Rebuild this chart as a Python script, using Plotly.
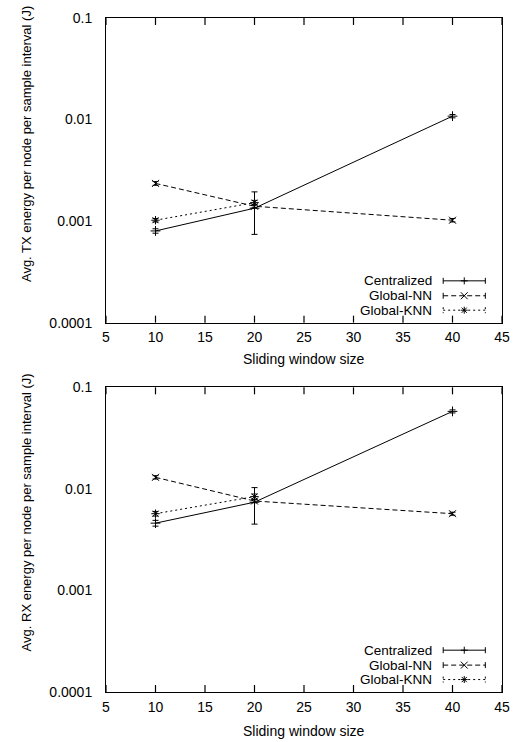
import math
import plotly.graph_objects as go

# ---------------- data ----------------
window_sizes = [10, 20, 40]
knn_window_sizes = [10, 20]

tx_centralized = [0.0008, 0.00134, 0.0108]
tx_centralized_err = [0.00004, 0.0006, 0.0004]
tx_global_nn = [0.00235, 0.0014, 0.00102]
tx_global_nn_err = [0.0001, 0.00005, 0.00004]
tx_global_knn = [0.00102, 0.00152]
tx_global_knn_err = [0.00004, 0.00008]

rx_centralized = [0.0046, 0.0074, 0.058]
rx_centralized_err = [0.0003, 0.0029, 0.002]
rx_global_nn = [0.013, 0.0076, 0.0057]
rx_global_nn_err = [0.0005, 0.0003, 0.0002]
rx_global_knn = [0.0057, 0.0084]
rx_global_knn_err = [0.0003, 0.0005]

series_names = ["Centralized", "Global-NN", "Global-KNN"]
x_tick_vals = [5, 10, 15, 20, 25, 30, 35, 40, 45]
y_tick_vals = [0.0001, 0.001, 0.01, 0.1]
y_tick_text = ["0.0001", "0.001", "0.01", "0.1"]
x_title = "Sliding window size"
tx_title = "Avg. TX energy per node per sample interval (J)"
rx_title = "Avg. RX energy per node per sample interval (J)"

# minor log ticks (2..9 of each decade)
minor_vals = [m * d for d in y_tick_vals[:-1] for m in range(2, 10)]

# ---------------- layout geometry (pixels) ----------------
W, H = 520, 742
L, R, T, B = 106, 10, 15, 50
PLOT_BOT = H - B
top_frame = (15, 321)
bot_frame = (386, 692)
pw = W - L - R
ph = PLOT_BOT - T


def ydom(frame):
    return [(PLOT_BOT - frame[1]) / ph, (PLOT_BOT - frame[0]) / ph]


def fx(x):
    return (x - L) / pw


def fy(y):
    return (PLOT_BOT - y) / ph


FONT = "Liberation Sans, Arial, sans-serif"
dashes = ["solid", "5px,3px", "2px,3px"]
symbols = ["cross-thin", "x-thin", "asterisk"]

fig = go.Figure()


def add_series(x, y, err, k, xa, ya):
    fig.add_trace(go.Scatter(
        x=x, y=y, mode="lines+markers", name=series_names[k],
        line=dict(color="black", width=1, dash=dashes[k]),
        marker=dict(symbol=symbols[k], size=7, color="black",
                    line=dict(color="black", width=1)),
        error_y=dict(type="data", array=err, visible=True, color="black",
                     thickness=1, width=3),
        xaxis=xa, yaxis=ya, showlegend=False))


add_series(window_sizes, tx_centralized, tx_centralized_err, 0, "x", "y")
add_series(window_sizes, tx_global_nn, tx_global_nn_err, 1, "x", "y")
add_series(knn_window_sizes, tx_global_knn, tx_global_knn_err, 2, "x", "y")
add_series(window_sizes, rx_centralized, rx_centralized_err, 0, "x2", "y2")
add_series(window_sizes, rx_global_nn, rx_global_nn_err, 1, "x2", "y2")
add_series(knn_window_sizes, rx_global_knn, rx_global_knn_err, 2, "x2", "y2")

shapes = []
annotations = []


def pline(xa, ya, xb, yb, dash="solid", width=1):
    shapes.append(dict(type="line", xref="paper", yref="paper",
                       x0=fx(xa), y0=fy(ya), x1=fx(xb), y1=fy(yb),
                       line=dict(color="black", width=width, dash=dash)))


def psymbol(k, xc, yc, r=3.5):
    if k == 0:
        pline(xc - r, yc, xc + r, yc)
        pline(xc, yc - r, xc, yc + r)
    elif k == 1:
        pline(xc - r, yc - r, xc + r, yc + r)
        pline(xc - r, yc + r, xc + r, yc - r)
    else:
        pline(xc - r, yc, xc + r, yc)
        pline(xc, yc - r, xc, yc + r)
        d = r * 0.75
        pline(xc - d, yc - d, xc + d, yc + d)
        pline(xc - d, yc + d, xc + d, yc - d)


# ---------------- gnuplot-like keys ----------------
for frame in (top_frame, bot_frame):
    offsets = [42, 27, 12.5]
    for k in range(3):
        yy = frame[1] - offsets[k]
        x0, x1 = 450, 493
        pline(x0, yy, x1, yy, dashes[k])
        pline(x0, yy - 3, x0, yy + 3, dashes[k] if k == 2 else "solid")
        pline(x1, yy - 3, x1, yy + 3, dashes[k] if k == 2 else "solid")
        psymbol(k, (x0 + x1) / 2, yy)
        annotations.append(dict(x=fx(441), y=fy(yy), xref="paper", yref="paper",
                                text=series_names[k], showarrow=False,
                                xanchor="right", yanchor="middle",
                                font=dict(family=FONT, size=13.5, color="black")))

# ---------------- tick marks drawn inside the frame on all four sides ----------------
for xa_name, ya_name in (("x", "y"), ("x2", "y2")):
    for v in minor_vals + y_tick_vals:
        lv = math.log10(v)
        tl = 7 if v in y_tick_vals else 4
        for xa0, xa1 in ((0, tl / pw), (1 - tl / pw, 1)):
            shapes.append(dict(type="line", xref=xa_name + " domain", yref=ya_name,
                               x0=xa0, x1=xa1, y0=lv, y1=lv, layer="above",
                               line=dict(color="black", width=1.2)))
    for v in x_tick_vals:
        for ya0, ya1 in ((0, 7 / 306), (1 - 7 / 306, 1)):
            shapes.append(dict(type="line", xref=xa_name, yref=ya_name + " domain",
                               x0=v, x1=v, y0=ya0, y1=ya1, layer="above",
                               line=dict(color="black", width=1.2)))

# axis titles
for title, ycen in [(tx_title, 142), (rx_title, 512)]:
    annotations.append(dict(x=fx(25), y=fy(ycen), xref="paper", yref="paper",
                            text=title, textangle=-90, showarrow=False,
                            xanchor="center", yanchor="middle",
                            font=dict(family=FONT, size=13, color="black")))
for ycen in [358, 731]:
    annotations.append(dict(x=fx(308), y=fy(ycen), xref="paper", yref="paper",
                            text=x_title, showarrow=False,
                            xanchor="center", yanchor="middle",
                            font=dict(family=FONT, size=14, color="black")))

xcommon = dict(range=[5, 45], tickvals=x_tick_vals, ticks="", mirror=True,
               showline=True, linecolor="black", linewidth=1, showgrid=False,
               zeroline=False, ticklabelstandoff=2,
               tickfont=dict(family=FONT, size=14, color="black"))
ycommon = dict(type="log", range=[-4, -1], tickvals=y_tick_vals, ticktext=y_tick_text,
               ticks="", mirror=True, showline=True, linecolor="black", linewidth=1,
               showgrid=False, zeroline=False, ticklabelstandoff=10,
               tickfont=dict(family=FONT, size=14, color="black"))

fig.update_layout(
    width=W, height=H,
    margin=dict(l=L, r=R, t=T, b=B),
    paper_bgcolor="white", plot_bgcolor="white",
    showlegend=False,
    xaxis=dict(domain=[0, 1], anchor="y", **xcommon),
    yaxis=dict(domain=ydom(top_frame), anchor="x", **ycommon),
    xaxis2=dict(domain=[0, 1], anchor="y2", **xcommon),
    yaxis2=dict(domain=ydom(bot_frame), anchor="x2", **ycommon),
    shapes=shapes,
    annotations=annotations,
)

fig.write_html("out.html")
